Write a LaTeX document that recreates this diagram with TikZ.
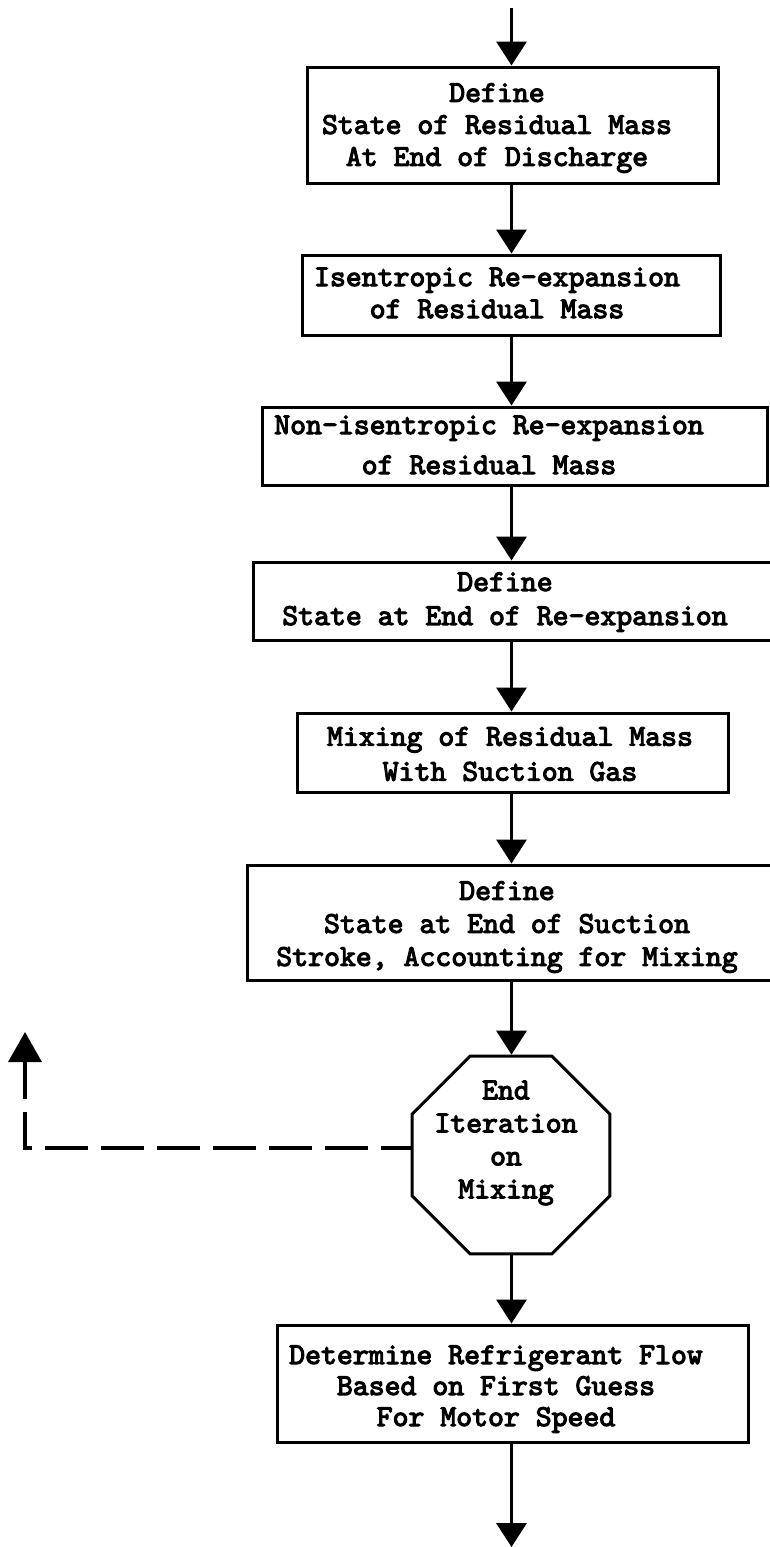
\documentclass[tikz,border=0pt]{standalone}
\usepackage{fontspec}
\newfontfamily\typewriter{lmmono10-regular.otf}[FakeBold=3.6]
\usetikzlibrary{arrows.meta,shapes.geometric}
\begin{document}
\begin{tikzpicture}[x=1pt,y=-1pt,
  box/.style={draw,line width=3pt,rectangle,inner sep=0pt},
  lbl/.style={align=center,inner sep=0pt,font=\typewriter\fontsize{30.3}{#1}\selectfont},
  lbl/.default=32,
  flow/.style={line width=3.5pt,-{Triangle[width=30pt,length=24pt]}},
  feedback/.style={line width=3.5pt,dash pattern=on 43pt off 13pt,dash phase=13pt,-{Triangle[width=33pt,length=30pt]}}
]
% page
\path[fill=white,use as bounding box] (0,0) rectangle (770,1547);

% boxes
\node[box,minimum width=411pt,minimum height=116pt] (b1) at (512.5,125) {};
\node[box,minimum width=418pt,minimum height=80pt]  (b2) at (511,295) {};
\node[box,minimum width=505pt,minimum height=78pt]  (b3) at (514.5,446) {};
\node[box,minimum width=537pt,minimum height=78pt]  (b4) at (521.5,601) {};
\node[box,minimum width=431pt,minimum height=79pt]  (b5) at (512.5,752.5) {};
\node[box,minimum width=543pt,minimum height=115pt] (b6) at (518.5,922.5) {};
\node[draw,line width=3pt,regular polygon,regular polygon sides=8,
      minimum size=214pt,inner sep=0pt] (oct) at (511,1155) {};
\node[box,minimum width=471pt,minimum height=117pt] (b7) at (512.5,1383.5) {};

% texts
\node[lbl=32] (t1) at (497,128) {Define\\State of Residual Mass\\At End of Discharge};
\node[lbl=32] (t2) at (497,293) {Isentropic Re-expansion\\of Residual Mass};
\node[lbl=40] (t3) at (489,445) {Non-isentropic Re-expansion\\of Residual Mass};
\node[lbl=34] (t4) at (505,602) {Define\\State at End of Re-expansion};
\node[lbl=35] (t5) at (510,754) {Mixing of Residual Mass\\With Suction Gas};
\node[lbl=33] (t6) at (507,927) {Define\\State at End of Suction\\Stroke, Accounting for Mixing};
\node[lbl=33] (t7) at (506,1143) {End\\Iteration\\on\\Mixing};
\node[lbl=31] (t8) at (496,1389) {Determine Refrigerant Flow\\Based on First Guess\\For Motor Speed};

% flow connectors
\coordinate (in) at (511.5,8);
\coordinate (out) at (511.5,1547);
\draw[flow] (in) -- (in |- b1.north);
\draw[flow] (b1.south -| in) -- (b2.north -| in);
\draw[flow] (b2.south -| in) -- (b3.north -| in);
\draw[flow] (b3.south -| in) -- (b4.north -| in);
\draw[flow] (b4.south -| in) -- (b5.north -| in);
\draw[flow] (b5.south -| in) -- (b6.north -| in);
\draw[flow] (b6.south -| in) -- (oct.north -| in);
\draw[flow] (oct.south -| in) -- (b7.north -| in);
\draw[flow] (b7.south -| in) -- (out);

% iteration return
\coordinate (back) at (25,1032);
\draw[feedback] ([yshift=7pt]oct.west) -| (back);
\end{tikzpicture}
\end{document}
